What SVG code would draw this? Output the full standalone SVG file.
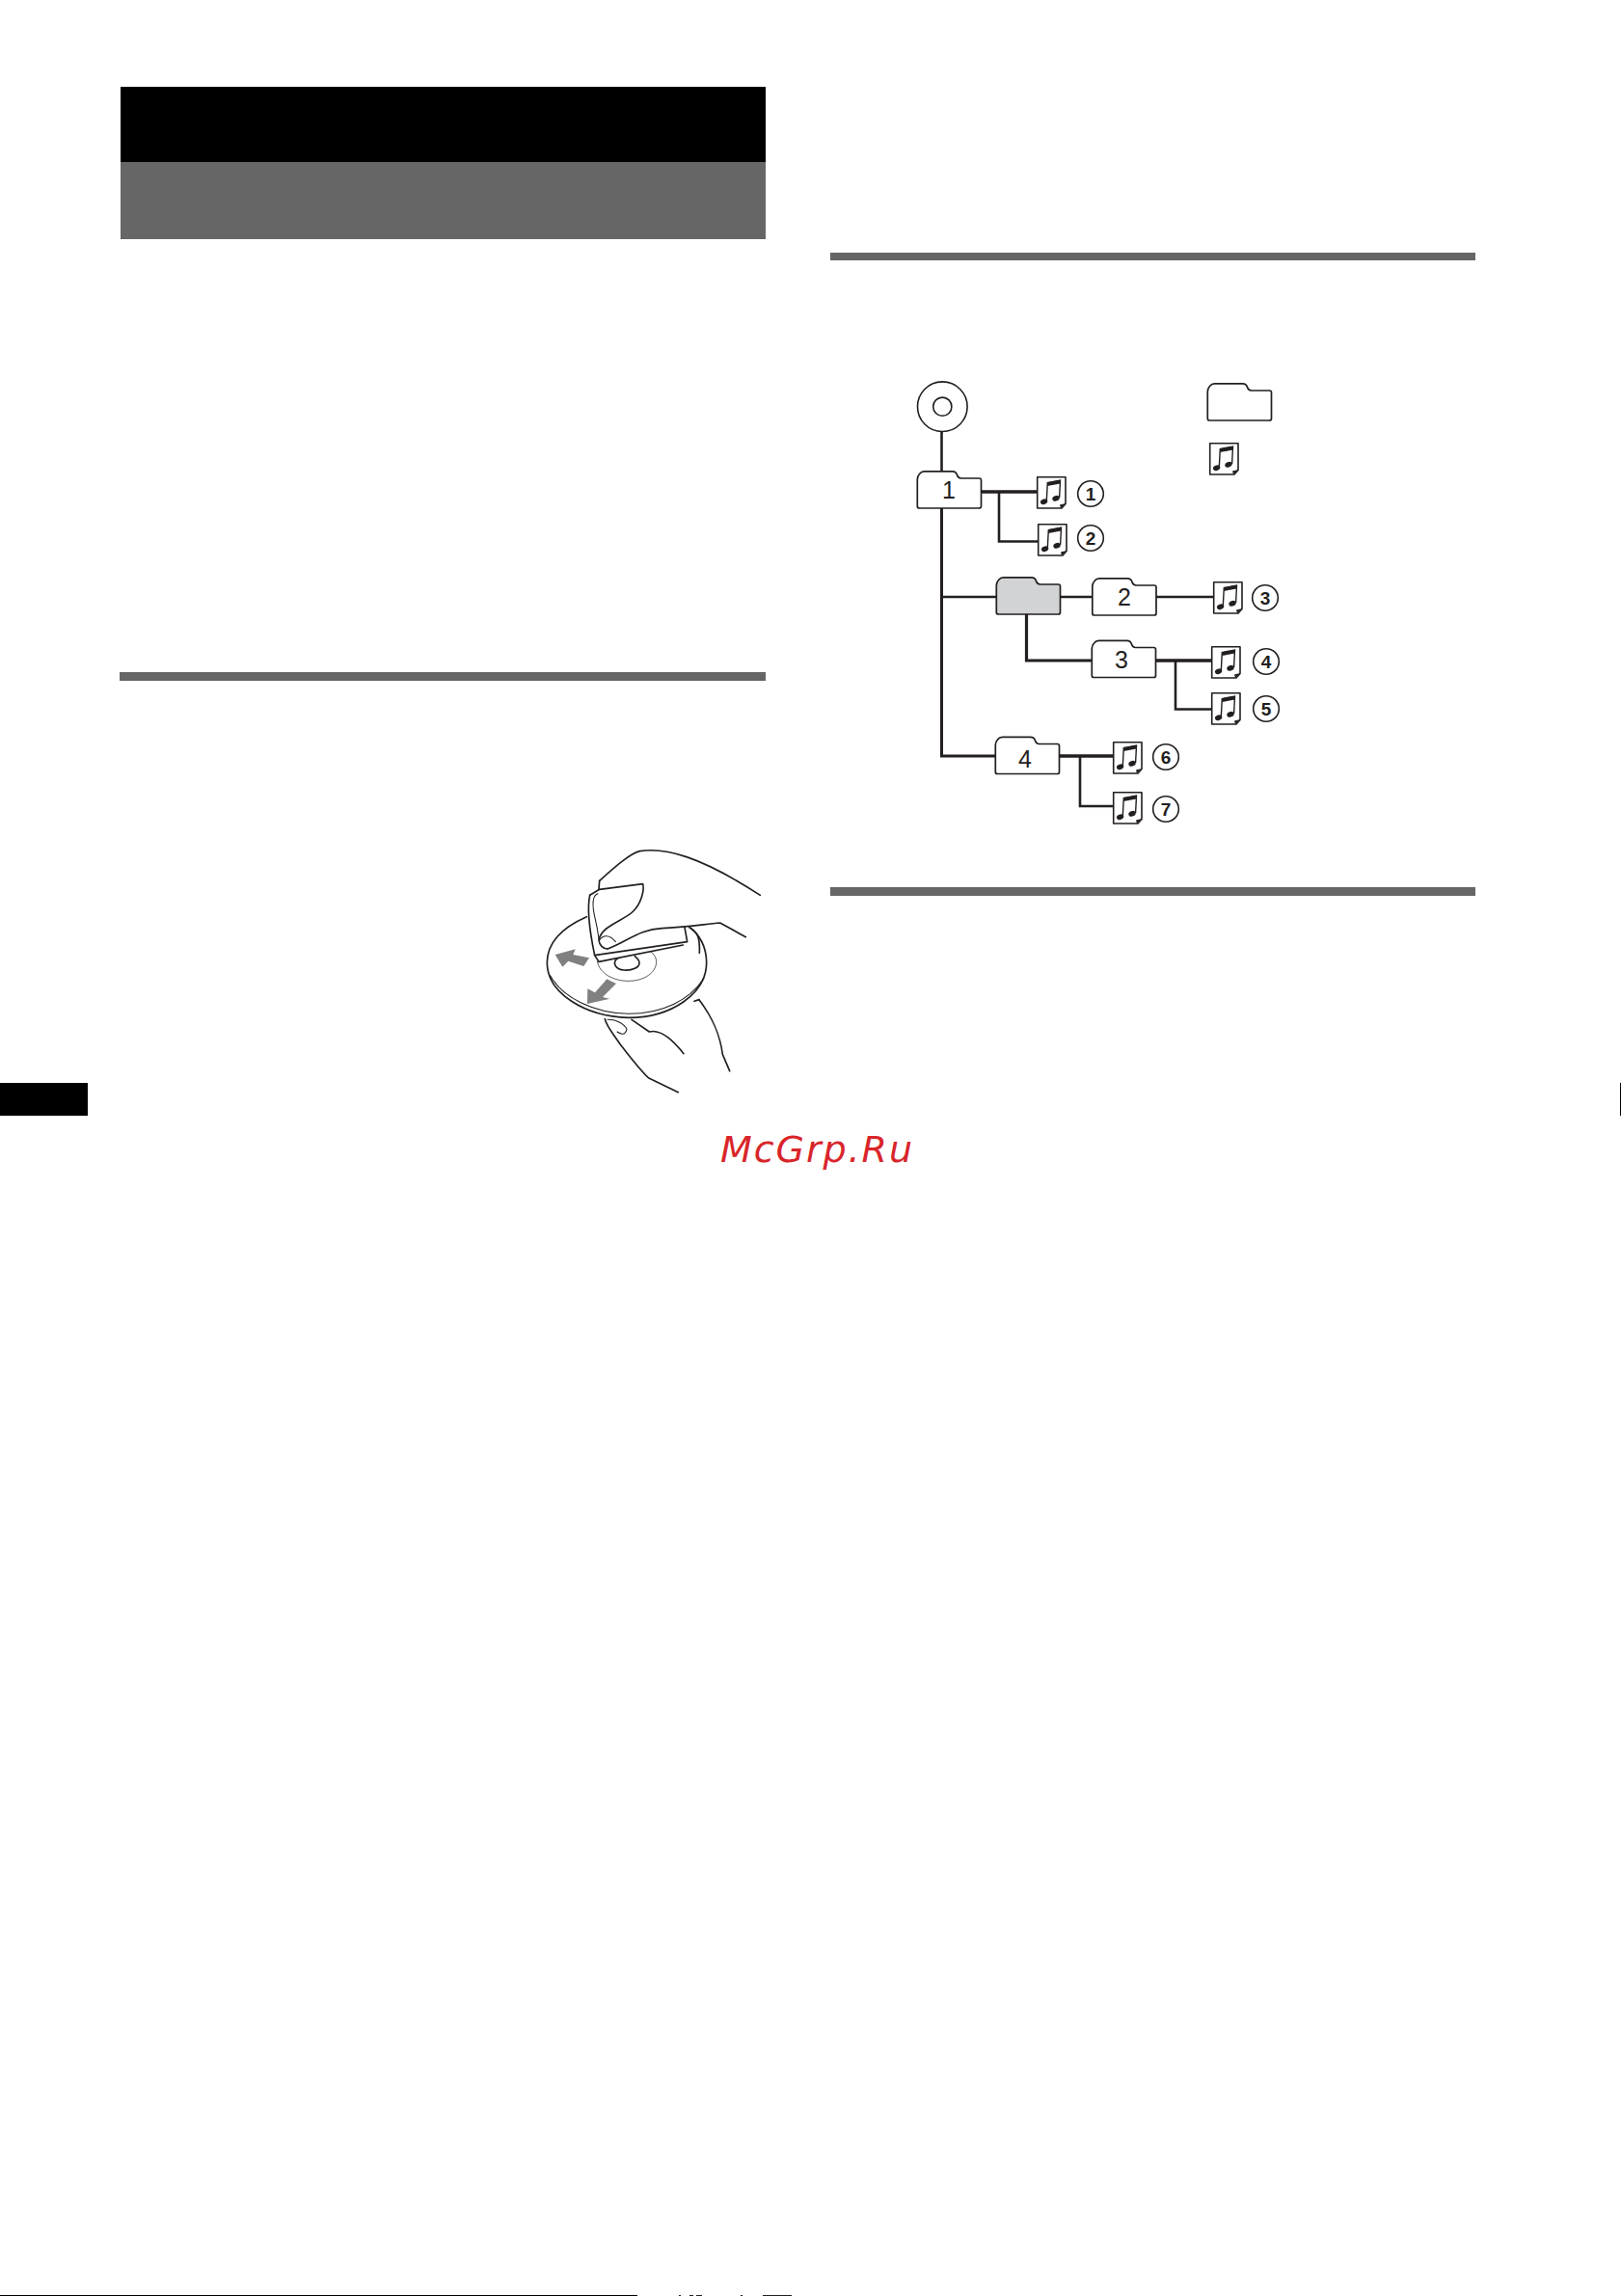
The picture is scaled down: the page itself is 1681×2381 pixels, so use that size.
<svg xmlns="http://www.w3.org/2000/svg" xmlns:xlink="http://www.w3.org/1999/xlink" width="1681" height="2381" viewBox="0 0 1681 2381">
<style>
.f{fill:#fff;stroke:#231f20;stroke-width:1.7;stroke-linejoin:round}
.g{fill:#d1d3d4}
.c{fill:none;stroke:#231f20;stroke-linejoin:miter}
.n{font-family:"Liberation Sans",Arial,sans-serif;font-size:25px;fill:#231f20;text-anchor:middle}
.r{fill:#fff;stroke:#231f20;stroke-width:1.6}
.d{font-family:"Liberation Sans",Arial,sans-serif;font-size:19px;font-weight:bold;fill:#231f20;text-anchor:middle}
.w{fill:#fff;stroke:none}
.l{fill:none;stroke:#231f20;stroke-width:5;stroke-linecap:round;stroke-linejoin:round}
.m{fill:none;stroke:#231f20;stroke-width:3.2;stroke-linecap:round;stroke-linejoin:round}
.t{fill:none;stroke:#231f20;stroke-width:2.2}
.a{fill:#808080}
</style>
<defs>
<path id="folder" d="M0.8,37 V9 Q0.8,6 3,3.5 Q5,0.8 8,0.8 H37 Q41,0.8 42,4.5 Q43,8 46,8 H65 Q67,8 67,10 V37 Q67,39 65,39 H2.8 Q0.8,39 0.8,37 Z"/>
<g id="icon">
<path d="M0.7,0.7 H30 V28.5 L26,33 H0.7 Z" fill="#fff" stroke="#231f20" stroke-width="1.6" stroke-linejoin="round"/>
<path d="M30,28 L25,33 L24,29.5 Z" fill="#231f20"/>
<ellipse cx="7.6" cy="26.2" rx="3.8" ry="2.7" transform="rotate(-22 7.6 26.2)" fill="#231f20"/>
<ellipse cx="20" cy="22.8" rx="3.8" ry="2.7" transform="rotate(-22 20 22.8)" fill="#231f20"/>
<path d="M10.3,25.5 L11.3,6.5 L24.5,4.2 L23.6,22" fill="none" stroke="#231f20" stroke-width="1.4"/>
<path d="M11.3,6.2 L24.5,3.8 L24.4,7.6 L11.2,10 Z" fill="#231f20"/>
</g>
</defs>

<g id="page-frame">
<rect x="125" y="90" width="669" height="78" fill="#000"/>
<rect x="125" y="168" width="669" height="80" fill="#666"/>
<rect x="124" y="697" width="670" height="9" fill="#666"/>
<rect x="861" y="262" width="669" height="8" fill="#666"/>
<rect x="861" y="920" width="669" height="9" fill="#666"/>
<rect x="0" y="1123" width="91" height="34" fill="#000"/>
<rect x="1680" y="1123" width="1" height="34" fill="#000"/>
<rect x="0" y="2380" width="661" height="1" fill="#000"/>
<rect x="704" y="2380" width="2" height="1" fill="#222"/>
<rect x="715" y="2380" width="4" height="1" fill="#222"/>
<rect x="722" y="2380" width="6" height="1" fill="#222"/>
<rect x="768" y="2380" width="2" height="1" fill="#222"/>
<rect x="791" y="2380" width="30" height="1" fill="#222"/>
</g>

<g id="connectors">
<path class="c" stroke-width="2.6" d="M976.5,447 V488"/>
<path class="c" stroke-width="3" d="M976.5,527 V784 H1032"/>
<path class="c" stroke-width="2.4" d="M976.5,619 H1033"/>
<path class="c" stroke-width="3.4" d="M1018,510 H1075"/>
<path class="c" stroke-width="2.6" d="M1036,510 V561.5 H1076"/>
<path class="c" stroke-width="2.4" d="M1099,619 H1132"/>
<path class="c" stroke-width="2.4" d="M1199,619 H1258"/>
<path class="c" stroke-width="3.2" d="M1064.5,637 V685 H1132"/>
<path class="c" stroke-width="3.4" d="M1199,685 H1256"/>
<path class="c" stroke-width="2.6" d="M1219,685 V735.5 H1256"/>
<path class="c" stroke-width="3.4" d="M1099,784 H1154"/>
<path class="c" stroke-width="2.6" d="M1120,784 V836 H1154"/>
</g>

<g id="disc"><circle cx="977.3" cy="421.7" r="25.8" class="r"/><circle cx="977.3" cy="421.7" r="9.6" class="r"/></g>
<g id="legend-folder"><use xlink:href="#folder" href="#folder" x="1251.5" y="397" class="f"/></g>
<g id="legend-file"><use xlink:href="#icon" href="#icon" x="1254" y="459"/></g>

<g id="folder-1"><use xlink:href="#folder" href="#folder" x="950.5" y="488" class="f"/><text class="n" x="984" y="517">1</text></g>
<g id="folder-root"><use xlink:href="#folder" href="#folder" x="1032.5" y="598" class="f g"/></g>
<g id="folder-2"><use xlink:href="#folder" href="#folder" x="1132" y="599" class="f"/><text class="n" x="1166" y="628">2</text></g>
<g id="folder-3"><use xlink:href="#folder" href="#folder" x="1131.5" y="663.5" class="f"/><text class="n" x="1163" y="693">3</text></g>
<g id="folder-4"><use xlink:href="#folder" href="#folder" x="1031.5" y="763.5" class="f"/><text class="n" x="1063" y="796">4</text></g>

<g id="file-1"><use xlink:href="#icon" href="#icon" x="1075" y="494"/><circle class="r" cx="1131" cy="512" r="13.3"/><text class="d" x="1131" y="519">1</text></g>
<g id="file-2"><use xlink:href="#icon" href="#icon" x="1076" y="543"/><circle class="r" cx="1131" cy="558" r="13.3"/><text class="d" x="1131" y="565">2</text></g>
<g id="file-3"><use xlink:href="#icon" href="#icon" x="1258" y="603"/><circle class="r" cx="1312" cy="620" r="13.3"/><text class="d" x="1312" y="627">3</text></g>
<g id="file-4"><use xlink:href="#icon" href="#icon" x="1256" y="670"/><circle class="r" cx="1313" cy="686" r="13.3"/><text class="d" x="1313" y="693">4</text></g>
<g id="file-5"><use xlink:href="#icon" href="#icon" x="1256" y="718"/><circle class="r" cx="1313" cy="735" r="13.3"/><text class="d" x="1313" y="742">5</text></g>
<g id="file-6"><use xlink:href="#icon" href="#icon" x="1154" y="769"/><circle class="r" cx="1209" cy="785" r="13.3"/><text class="d" x="1209" y="792">6</text></g>
<g id="file-7"><use xlink:href="#icon" href="#icon" x="1154" y="821"/><circle class="r" cx="1209" cy="839" r="13.3"/><text class="d" x="1209" y="846">7</text></g>

<g id="cleaning-illustration" transform="translate(540 860) scale(0.33333)">
<path class="l" d="M205,272 C130,305 82,350 82,415 C82,510 200,582 335,586 C470,586 578,510 578,415 C578,365 555,325 525,305"/>
<path class="m" d="M92,455 C130,525 230,572 335,574 C440,574 530,530 570,462"/>
<path class="a" d="M107,390 L170,373 L163,390 L213,400 L196,426 L148,410 L130,428 Z"/>
<path class="a" d="M207,543 L208,496 L231,508 L268,466 L297,480 L255,522 L277,527 Z"/>
<path class="t" d="M238,410 C245,450 290,472 335,472 C385,472 422,445 422,412 C422,398 412,385 400,378"/>
<path class="l" d="M355,395 C375,410 372,425 355,433 C335,442 305,440 295,425 C288,412 295,405 305,400"/>
<path class="l" d="M525,305 C550,320 558,335 556,385"/>
<path class="w" d="M230,392 L242,412 L505,360 L518,350 L510,300 L620,291 L600,150 L370,68 L245,160 L215,205 Z"/>
<path class="l" d="M245,160 C290,120 340,75 370,68 C450,55 560,85 745,205"/>
<path class="l" d="M245,160 L243,187"/>
<path class="l" d="M270,372 C330,350 370,310 440,308 C500,305 560,297 620,291 L700,335"/>
<path class="l" d="M215,205 L245,187 L315,178 L380,170 C385,190 375,230 350,255 C320,285 250,300 243,345 C245,360 255,372 270,372"/>
<path class="l" d="M215,205 C205,250 215,320 230,392 L518,350 L510,305"/>
<path class="l" d="M230,392 L243,412 L505,360"/>
<path class="m" d="M240,200 C225,205 220,230 232,280 C238,305 240,320 243,340"/>
<path class="m" d="M245,345 C255,330 275,325 295,350"/>
<path class="l" d="M555,530 C600,590 620,640 628,700 L650,752"/>
<path class="l" d="M540,535 L555,530"/>
<path class="l" d="M262,590 C265,610 290,640 310,670 C350,720 380,760 400,775 L490,818"/>
<path class="m" d="M270,592 C300,590 325,610 330,622 C325,640 315,640 300,630"/>
<path class="l" d="M345,592 L400,630 C440,620 480,665 507,698"/>
</g>

<g id="watermark">
<text x="747" y="1205" font-family="'DejaVu Sans',sans-serif" font-style="italic" font-size="38" fill="#d9252a" textLength="199" lengthAdjust="spacing">McGrp.Ru</text>
</g>
</svg>
